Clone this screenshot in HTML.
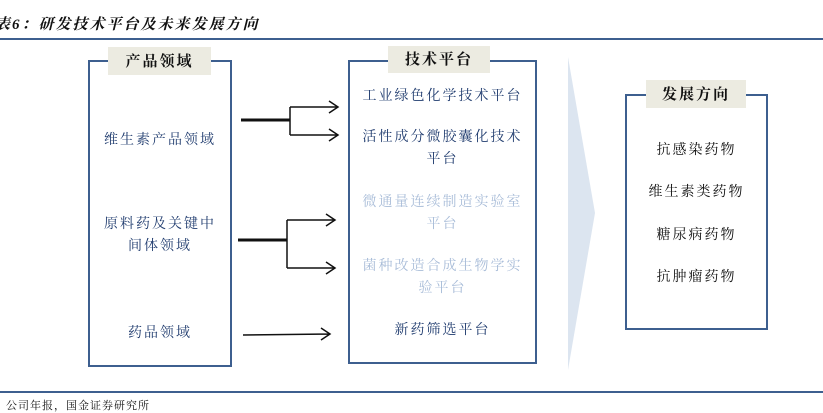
<!DOCTYPE html>
<html><head><meta charset="utf-8"><style>
body{margin:0;width:823px;height:409px;background:#fff;position:relative;overflow:hidden;font-family:"Liberation Serif","Noto Serif CJK SC",serif;}
.a{position:absolute;white-space:nowrap;}
.t{position:absolute;text-align:center;font-size:14px;letter-spacing:2px;line-height:22px;color:#1f3b6e;}
.box{position:absolute;border:2px solid #3d5f8f;box-sizing:border-box;}
.lab{position:absolute;background:#ecebe1;text-align:center;font-size:15px;font-weight:bold;letter-spacing:2px;color:#111;}
</style></head><body>
<div class="a" style="left:-5px;top:13px;font-size:15px;font-weight:bold;font-style:italic;letter-spacing:2px;color:#111;">表6：研发技术平台及未来发展方向</div>
<div class="a" style="left:0;top:38px;width:823px;height:2px;background:#3d5f8f"></div>
<div class="a" style="left:0;top:391px;width:823px;height:2px;background:#3d5f8f"></div>
<div class="a" style="left:-6px;top:397px;font-size:11px;letter-spacing:1px;color:#111;">：公司年报，国金证券研究所</div>

<div class="box" style="left:88px;top:60px;width:144px;height:307px"></div>
<div class="lab" style="left:108px;top:47px;width:103px;height:28px;line-height:30px">产品领域</div>
<div class="t" style="left:88px;top:130px;width:144px">维生素产品领域</div>
<div class="t" style="left:88px;top:214px;width:144px">原料药及关键中<br>间体领域</div>
<div class="t" style="left:88px;top:323px;width:144px">药品领域</div>

<div class="box" style="left:348px;top:60px;width:189px;height:304px"></div>
<div class="lab" style="left:388px;top:46px;width:102px;height:27px;line-height:29px">技术平台</div>
<div class="t" style="left:348px;top:86px;width:189px">工业绿色化学技术平台</div>
<div class="t" style="left:348px;top:127px;width:189px">活性成分微胶囊化技术<br>平台</div>
<div class="t" style="left:348px;top:192px;width:189px;color:#a8bcd8">微通量连续制造实验室<br>平台</div>
<div class="t" style="left:348px;top:256px;width:189px;color:#a8bcd8">菌种改造合成生物学实<br>验平台</div>
<div class="t" style="left:348px;top:320px;width:189px">新药筛选平台</div>

<svg class="a" style="left:0;top:0" width="823" height="409">
<polygon points="568,57 595,213 568,370" fill="#dce5f0"/>
<g stroke="#111" fill="none" stroke-width="1.5">
<path d="M241 120 H290" stroke-width="3"/>
<path d="M290 107 V135 M290 107 H337 M290 135 H337 M329 101 L338 107 L329 113 M329 129 L338 135 L329 141"/>
<path d="M238 240 H287" stroke-width="3"/>
<path d="M287 220 V268 M287 220 H334 M287 268 H334 M326 214 L335 220 L326 226 M326 262 L335 268 L326 274"/>
<path d="M243 335 L330 334 M321 328 L330 334 L321 340"/>
</g>
</svg>

<div class="box" style="left:625px;top:94px;width:143px;height:236px"></div>
<div class="lab" style="left:646px;top:80px;width:100px;height:28px;line-height:30px">发展方向</div>
<div class="t" style="left:625px;top:140px;width:143px;color:#111">抗感染药物</div>
<div class="t" style="left:625px;top:182px;width:143px;color:#111">维生素类药物</div>
<div class="t" style="left:625px;top:225px;width:143px;color:#111">糖尿病药物</div>
<div class="t" style="left:625px;top:267px;width:143px;color:#111">抗肿瘤药物</div>
</body></html>
